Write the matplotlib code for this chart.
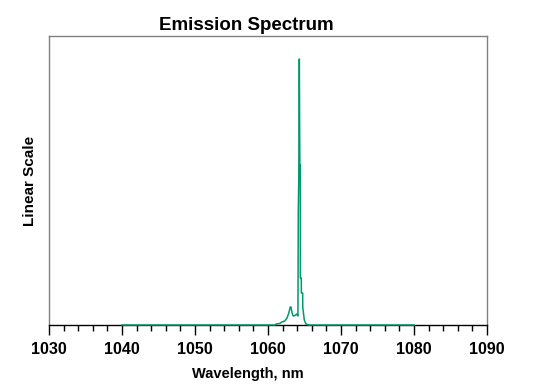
import matplotlib
matplotlib.use("Agg")
import matplotlib.pyplot as plt
from matplotlib.ticker import MultipleLocator

# Spectrum data (wavelength nm, relative intensity, linear scale)
wavelength = [1040.0, 1061.0, 1061.1, 1061.6, 1061.9, 1062.3, 1062.6, 1062.85,
              1063.05, 1063.15, 1063.3, 1063.45, 1063.7, 1063.95, 1064.1,
              1064.15, 1064.22, 1064.29, 1064.36, 1064.42, 1064.43, 1064.56,
              1064.57, 1064.75, 1064.76, 1064.97, 1065.2, 1065.6, 1080.0]
intensity = [0.0, 0.0, 1.0, 1.5, 3.0, 4.0, 7.0, 12.0,
             18.0, 18.0, 12.0, 9.0, 9.5, 11.0, 9.0,
             114.0, 150.0, 266.0, 160.0, 160.0, 47.0, 47.0,
             32.0, 32.0, 18.0, 5.0, 1.0, 0.0, 0.0]

x_ticks = [1030, 1040, 1050, 1060, 1070, 1080, 1090]
title = "Emission Spectrum"
x_label = "Wavelength, nm"
y_label = "Linear Scale"

plt.rcParams['font.family'] = ['Liberation Sans', 'DejaVu Sans']

fig = plt.figure(figsize=(5.43, 3.92), dpi=100)
ax = fig.add_axes([49/543, 1 - 325/392, (487-49)/543, (325-36)/392])

ax.plot(wavelength, intensity, color='#00996B', lw=1.1, zorder=5, clip_on=False)

ax.set_xlim(1030, 1090)
ax.set_ylim(0, 289)
ax.set_xticks(x_ticks)
ax.xaxis.set_minor_locator(MultipleLocator(2))
ax.set_yticks([])
ax.tick_params(axis='x', which='major', direction='out', length=7, width=1,
               color='black', labelsize=11.5, pad=5)
ax.tick_params(axis='x', which='minor', direction='out', length=4, width=1,
               color='black')
for lab in ax.get_xticklabels():
    lab.set_fontweight('bold')

for s in ['left', 'right', 'top']:
    ax.spines[s].set_color('#808080')
    ax.spines[s].set_linewidth(1)
ax.spines['bottom'].set_color('black')
ax.spines['bottom'].set_linewidth(1)

fig.text(247.5/543, 1 - 374/392, x_label, fontsize=10.5, fontweight='bold',
         ha='center', va='center')
fig.text(30/543, 1 - 181/392, y_label, fontsize=11, fontweight='bold',
         ha='center', va='center', rotation=90)
fig.text(246.5/543, 1 - 26/392, title, fontsize=13.5, fontweight='bold',
         ha='center', va='center')

fig.savefig("out.png", dpi=100)
